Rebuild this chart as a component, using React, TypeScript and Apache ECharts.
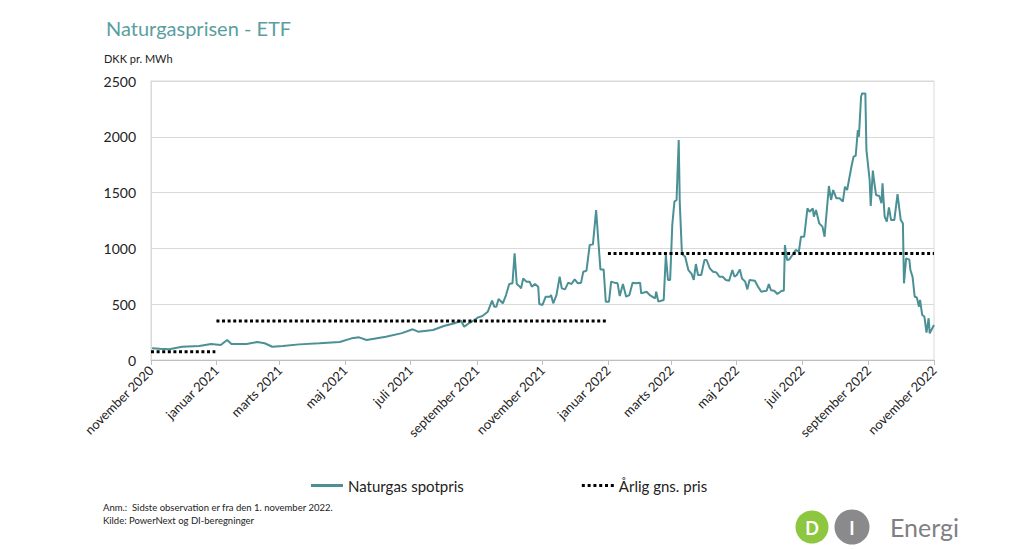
import React, { useEffect, useRef } from "react";
import * as echarts from "echarts";

const spotDates: string[] = [
  "2020-11-02","2020-11-09","2020-11-18","2020-11-30","2020-12-16","2020-12-27",
  "2021-01-05","2021-01-11","2021-01-15","2021-01-29","2021-02-08","2021-02-15","2021-02-22",
  "2021-03-04","2021-03-19","2021-04-07","2021-04-26","2021-05-07","2021-05-14","2021-05-21",
  "2021-06-08","2021-06-23","2021-07-03","2021-07-08","2021-07-22","2021-08-01","2021-08-11",
  "2021-08-17","2021-08-20","2021-08-25","2021-08-27","2021-09-02","2021-09-06","2021-09-11",
  "2021-09-15","2021-09-17","2021-09-19","2021-09-21","2021-09-25","2021-09-28","2021-10-01",
  "2021-10-04","2021-10-06","2021-10-08","2021-10-11","2021-10-12","2021-10-14","2021-10-17",
  "2021-10-20","2021-10-22","2021-10-25","2021-10-28","2021-10-29","2021-11-01","2021-11-04",
  "2021-11-08","2021-11-09","2021-11-11","2021-11-14","2021-11-17","2021-11-19","2021-11-22",
  "2021-11-25","2021-11-28","2021-12-01","2021-12-04","2021-12-07","2021-12-09","2021-12-12",
  "2021-12-15","2021-12-18","2021-12-21","2021-12-23","2021-12-25","2021-12-28","2021-12-30",
  "2022-01-02","2022-01-04","2022-01-07","2022-01-10","2022-01-12","2022-01-15","2022-01-18",
  "2022-01-21","2022-01-24","2022-01-27","2022-01-31","2022-02-01","2022-02-06","2022-02-09",
  "2022-02-14","2022-02-15","2022-02-17","2022-02-22","2022-02-24","2022-02-26","2022-02-28",
  "2022-03-02","2022-03-04","2022-03-06","2022-03-08","2022-03-09","2022-03-11","2022-03-14",
  "2022-03-17","2022-03-20","2022-03-22","2022-03-24","2022-03-26","2022-03-29","2022-04-01",
  "2022-04-03","2022-04-06","2022-04-09","2022-04-12","2022-04-15","2022-04-18","2022-04-21",
  "2022-04-24","2022-04-27","2022-04-29","2022-05-01","2022-05-04","2022-05-06","2022-05-09",
  "2022-05-11","2022-05-13","2022-05-18","2022-05-21","2022-05-24","2022-05-29","2022-05-31",
  "2022-06-02","2022-06-05","2022-06-08","2022-06-12","2022-06-14","2022-06-15","2022-06-17",
  "2022-06-19","2022-06-22","2022-06-25","2022-06-28","2022-06-30","2022-07-03","2022-07-06",
  "2022-07-08","2022-07-11","2022-07-12","2022-07-14","2022-07-17","2022-07-20","2022-07-22",
  "2022-07-23","2022-07-26","2022-07-28","2022-07-30","2022-08-02","2022-08-05","2022-08-08",
  "2022-08-10","2022-08-12","2022-08-16","2022-08-18","2022-08-20","2022-08-22","2022-08-23",
  "2022-08-25","2022-08-26","2022-08-29","2022-08-30","2022-09-02","2022-09-03","2022-09-05",
  "2022-09-06","2022-09-08","2022-09-11","2022-09-13","2022-09-14","2022-09-16","2022-09-18",
  "2022-09-20","2022-09-22","2022-09-25","2022-09-28","2022-10-01","2022-10-03","2022-10-04",
  "2022-10-06","2022-10-09","2022-10-10","2022-10-12","2022-10-14","2022-10-16","2022-10-18",
  "2022-10-19","2022-10-21","2022-10-23","2022-10-25","2022-10-27","2022-10-28","2022-11-01"
];

const spotValues: number[] = [
  105,100,96,119,125,143,
  134,179,143,143,161,150,119,
  125,140,149,161,194,203,179,
  209,241,275,254,269,305,329,
  352,298,334,343,382,394,433,
  532,478,478,547,508,582,681,
  687,956,681,657,642,731,702,
  702,657,681,657,502,493,567,
  567,582,508,582,746,642,633,
  693,681,723,687,693,791,800,
  1030,1036,1344,1075,812,812,523,
  523,702,693,687,573,681,567,
  582,693,687,693,597,612,582,
  553,612,523,538,941,717,717,
  1210,1419,1434,1971,1404,950,926,
  806,771,717,860,762,762,896,
  896,821,791,785,746,746,717,
  710,806,746,760,812,731,702,
  633,717,710,657,612,620,681,
  625,621,591,621,621,1030,896,
  900,941,986,970,1105,1105,1359,
  1329,1359,1284,1344,1224,1195,1105,
  1224,1559,1434,1523,1449,1449,1419,
  1553,1523,1732,1822,1830,2061,2000,
  2359,2389,2389,1882,1613,1380,1697,
  1613,1478,1470,1404,1584,1284,1239,
  1368,1254,1254,1487,1254,1224,687,
  911,900,806,746,567,560,478,
  538,403,390,245,374,239,314
];

const avgStarts: string[] = ["2020-11-01", "2021-01-01", "2022-01-01"];
const avgEnds: string[] = ["2020-12-31", "2021-12-31", "2022-11-01"];
const avgValues: number[] = [75, 350, 955];

const tickDates: string[] = [
  "2020-11-01", "2021-01-01", "2021-03-01", "2021-05-01", "2021-07-01", "2021-09-01", "2021-11-01",
  "2022-01-01", "2022-03-01", "2022-05-01", "2022-07-01", "2022-09-01", "2022-11-01"
];
const monthNames: string[] = [
  "januar", "februar", "marts", "april", "maj", "juni",
  "juli", "august", "september", "oktober", "november", "december"
];
const yTicks = { min: 0, max: 2500, interval: 500 };

const seriesNames = ["Naturgas spotpris", "Årlig gns. pris"];

const FONT = "Lato, 'Open Sans', sans-serif";

const SOLID_ICON = "path://M0,0H32V2.4H0Z";
const DOTTED_ICON =
  "path://M0,0h3v3h-3z M5.8,0h3v3h-3z M11.6,0h3v3h-3z M17.4,0h3v3h-3z M23.2,0h3v3h-3z M29,0h3v3h-3z";

const toTs = (s: string) => {
  const [y, m, d] = s.split("-").map(Number);
  return Date.UTC(y, m - 1, d);
};

export default function App() {
  const ref = useRef<HTMLDivElement>(null);
  useEffect(() => {
    if (!ref.current) return;
    const chart = echarts.init(ref.current, null, { renderer: "svg" });
    const tickValues = tickDates.map(toTs);
    const spotData = spotDates.map((d, i) => [toTs(d), spotValues[i]]);
    const avgData: any[] = [];
    avgStarts.forEach((s, i) => {
      if (i > 0) avgData.push([toTs(s), "-"]);
      avgData.push([toTs(s), avgValues[i]]);
      avgData.push([toTs(avgEnds[i]), avgValues[i]]);
    });
    chart.setOption({
      animation: false,
      backgroundColor: "#ffffff",
      textStyle: { fontFamily: FONT },
      title: {
        text: "Naturgasprisen - ETF",
        left: 101,
        top: 13,
        textStyle: { fontFamily: FONT, fontSize: 20, fontWeight: "normal", color: "#5A9EA0" },
      },
      grid: {
        left: 151,
        right: 90,
        top: 81,
        bottom: 190,
        show: true,
        borderColor: "#d9d9d9",
        borderWidth: 1,
      },
      legend: {
        left: 306,
        top: 473,
        itemWidth: 32,
        itemHeight: 3,
        itemGap: 118,
        symbolKeepAspect: false,
        textStyle: { fontFamily: FONT, fontSize: 15, color: "#222" },
        data: [
          { name: seriesNames[0], icon: SOLID_ICON },
          { name: seriesNames[1], icon: DOTTED_ICON },
        ],
      },
      xAxis: {
        type: "value",
        min: tickValues[0],
        max: tickValues[tickValues.length - 1],
        axisLine: { show: true, lineStyle: { color: "#bfbfbf", width: 1 } },
        axisTick: { show: true, customValues: tickValues, length: 5, lineStyle: { color: "#bfbfbf" } },
        splitLine: { show: false },
        axisLabel: {
          customValues: tickValues,
          rotate: 45,
          fontFamily: FONT,
          fontSize: 13,
          color: "#222",
          margin: 8,
          formatter: (v: number) => {
            const d = new Date(v);
            return monthNames[d.getUTCMonth()] + " " + d.getUTCFullYear();
          },
        },
      },
      yAxis: {
        type: "value",
        min: yTicks.min,
        max: yTicks.max,
        interval: yTicks.interval,
        axisLine: { show: true, lineStyle: { color: "#d9d9d9" } },
        axisTick: { show: false },
        splitLine: { show: true, lineStyle: { color: "#d9d9d9", width: 1 } },
        axisLabel: {
          fontFamily: FONT,
          fontSize: 14,
          color: "#222",
          margin: 15,
          formatter: (v: number) => String(v),
        },
      },
      series: [
        {
          name: seriesNames[0],
          type: "line",
          data: spotData,
          showSymbol: false,
          symbol: "none",
          color: "#4A9095",
          lineStyle: { color: "#4A9095", width: 2 },
          itemStyle: { color: "#4A9095" },
          z: 3,
        },
        {
          name: seriesNames[1],
          type: "line",
          data: avgData,
          showSymbol: false,
          symbol: "none",
          connectNulls: false,
          color: "#000",
          lineStyle: { color: "#000", width: 3, type: [3, 2.6], cap: "butt" },
          itemStyle: { color: "#000" },
          z: 4,
        },
      ],
      graphic: [
        {
          type: "text",
          left: 104,
          top: 53,
          style: { text: "DKK pr. MWh", font: `11px ${FONT}`, fill: "#222" },
        },
        {
          type: "text",
          left: 103,
          top: 502,
          style: { text: "Anm.:  Sidste observation er fra den 1. november 2022.", font: `9.5px ${FONT}`, fill: "#222" },
        },
        {
          type: "text",
          left: 103,
          top: 515,
          style: { text: "Kilde: PowerNext og DI-beregninger", font: `9.5px ${FONT}`, fill: "#222" },
        },
        {
          type: "circle",
          shape: { cx: 812, cy: 527, r: 16.5 },
          style: { fill: "#8DC63F" },
        },
        {
          type: "circle",
          shape: { cx: 852, cy: 527, r: 17.5 },
          style: { fill: "#8A8A8D" },
        },
        {
          type: "text",
          x: 812,
          y: 528,
          style: { text: "D", font: `bold 18px ${FONT}`, fill: "#fff", align: "center", verticalAlign: "middle" },
        },
        {
          type: "text",
          x: 852,
          y: 528,
          style: { text: "I", font: `bold 18px ${FONT}`, fill: "#fff", align: "center", verticalAlign: "middle" },
        },
        {
          type: "text",
          x: 890,
          y: 527,
          style: { text: "Energi", font: `25px ${FONT}`, fill: "#808083", verticalAlign: "middle" },
        },
      ],
    });
    return () => chart.dispose();
  }, []);
  return (
    <div
      ref={ref}
      style={{ position: "fixed", left: 0, top: 0, width: 1024, height: 550, background: "#fff" }}
    />
  );
}
